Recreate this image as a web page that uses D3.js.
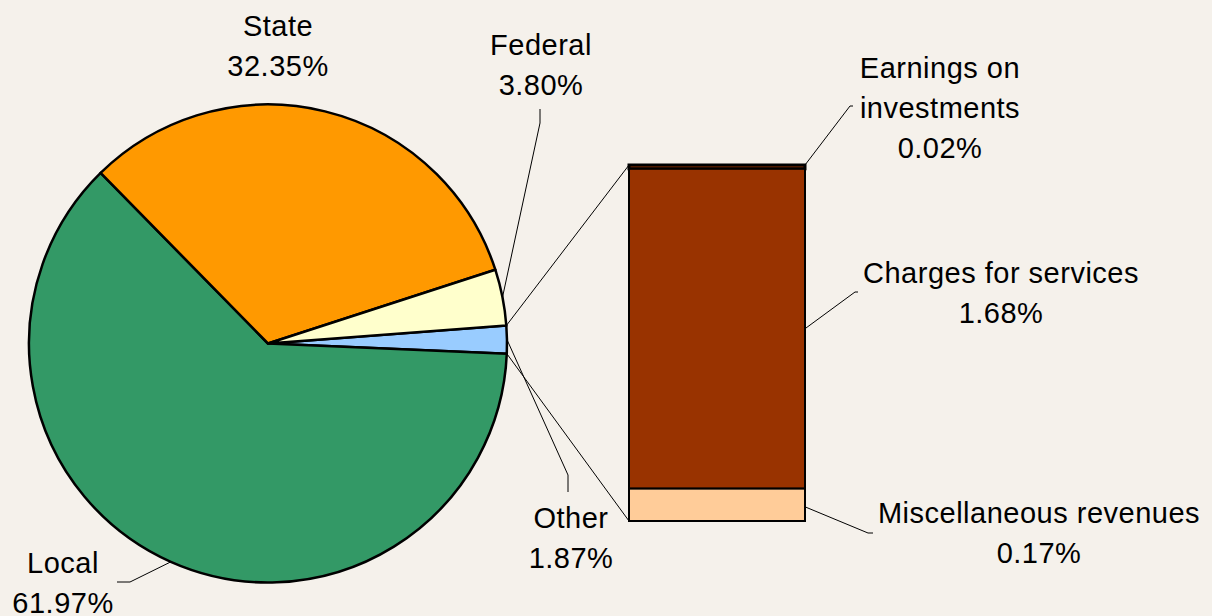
<!DOCTYPE html>
<html>
<head>
<meta charset="utf-8">
<script src="https://cdn.jsdelivr.net/npm/d3@7"></script>
<style>
  html, body { margin: 0; padding: 0; background: #f5f1eb; }
  svg { display: block; }
  text { font-family: "Liberation Sans", Arial, sans-serif; font-size: 29px; letter-spacing: 0.5px; fill: #000; }
</style>
</head>
<body>
<div id="chart"></div>
<script>
// pie data (clockwise from the "Other" slice)
var pieNames = ['Other', 'Local', 'State', 'Federal'];
var pieValues = [1.87, 61.97, 32.35, 3.80];
var pieColors = ['#99ccff', '#339966', '#ff9900', '#ffffcc'];

// breakdown of "Other" (top to bottom)
var barNames = ['Earnings on investments', 'Charges for services', 'Miscellaneous revenues'];
var barValues = [0.02, 1.68, 0.17];
var barColors = ['#993300', '#993300', '#ffcc99'];

var width = 1212, height = 616;
var cx = 268, cy = 343.5, radius = 239;
var bar = {x: 629, w: 176, top: 165, bottom: 521};

var svg = d3.select('#chart').append('svg')
    .attr('width', width)
    .attr('height', height);

svg.append('rect').attr('width', width).attr('height', height).attr('fill', '#f5f1eb');

var startA = 85.7 * Math.PI / 180;
var pie = d3.pie().sort(null).startAngle(startA).endAngle(startA + 2 * Math.PI);
var arcs = pie(pieValues);
var arc = d3.arc().innerRadius(0).outerRadius(radius);

var g = svg.append('g').attr('transform', 'translate(' + cx + ',' + cy + ')');
g.selectAll('path')
    .data(arcs)
  .enter().append('path')
    .attr('d', arc)
    .attr('fill', function(d, i) { return pieColors[i]; })
    .attr('stroke', '#000')
    .attr('stroke-width', 2.5)
    .attr('stroke-linejoin', 'round');

function pt(a, r) {
  return [cx + r * Math.sin(a), cy - r * Math.cos(a)];
}

// bar of pie
var y = d3.scaleLinear()
    .domain([0, d3.sum(barValues)])
    .range([bar.top, bar.bottom]);
var stack = [];
var acc = 0;
barValues.forEach(function(v, i) {
  stack.push({name: barNames[i], y0: acc, y1: acc + v, color: barColors[i]});
  acc += v;
});

// connector lines from "Other" slice to the bar
var other = arcs[0];
var line = d3.line();
var p1 = pt(other.startAngle, radius), p2 = pt(other.endAngle, radius);
svg.append('path').attr('d', line([p1, [bar.x, bar.top]]))
    .attr('stroke', '#000').attr('stroke-width', 1).attr('fill', 'none');
svg.append('path').attr('d', line([p2, [bar.x, bar.bottom]]))
    .attr('stroke', '#000').attr('stroke-width', 1).attr('fill', 'none');

svg.selectAll('rect.seg')
    .data(stack)
  .enter().append('rect')
    .attr('class', 'seg')
    .attr('x', bar.x)
    .attr('y', function(d) { return y(d.y0); })
    .attr('width', bar.w)
    .attr('height', function(d) { return y(d.y1) - y(d.y0); })
    .attr('fill', function(d) { return d.color; })
    .attr('stroke', '#000')
    .attr('stroke-width', function(d, i) { return i === 0 ? 3 : 2; });

// labels
function fmt(v) { return v.toFixed(2) + '%'; }
function label(lines, x, y0) {
  var t = svg.append('text').attr('text-anchor', 'middle');
  lines.forEach(function(s, i) {
    t.append('tspan').attr('x', x).attr('y', y0 + i * 40).text(s);
  });
}
function leader(pts) {
  svg.append('path').attr('d', line(pts))
      .attr('stroke', '#000').attr('stroke-width', 1).attr('fill', 'none');
}
function mid(d) { return (d.startAngle + d.endAngle) / 2; }

label([pieNames[2], fmt(pieValues[2])], 278, 36);
label([pieNames[3], fmt(pieValues[3])], 541, 55);
label([pieNames[0], fmt(pieValues[0])], 571, 528);
label([pieNames[1], fmt(pieValues[1])], 63, 573);

leader([[540, 109], [540, 123], pt(mid(arcs[3]), radius)]);
leader([pt(mid(arcs[0]), radius), [568, 475], [568, 492]]);
leader([pt(mid(arcs[1]), radius), [130, 582], [117, 582]]);

var right = bar.x + bar.w;
label(['Earnings on', 'investments', fmt(barValues[0])], 940, 78);
label([barNames[1], fmt(barValues[1])], 1001, 283);
label([barNames[2], fmt(barValues[2])], 1039, 523);

leader([[right, y(0)], [850, 106], [853, 106]]);
leader([[right, (y(stack[1].y0) + y(stack[1].y1)) / 2], [855, 292], [858, 292]]);
leader([[right, (y(stack[2].y0) + y(stack[2].y1)) / 2 + 2], [868, 533], [873, 533]]);
</script>
</body>
</html>
